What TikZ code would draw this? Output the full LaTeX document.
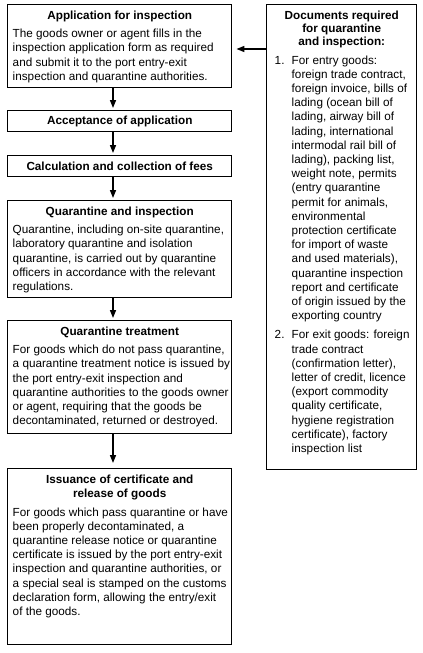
\documentclass[tikz,border=0pt]{standalone}
\usepackage{fontspec}
\setmainfont{Liberation Sans}
\usetikzlibrary{arrows.meta}
\newcommand\ttl[1]{\hbox to\hsize{\hss\bfseries #1\hss}}
\newcommand\lne[1]{\hbox to\hsize{#1\hss}}
\newcommand\itm[2]{\hbox to\hsize{\hskip2.25pt\hbox to12.75pt{#1\hss}#2\hss}}
\newcommand\cnt[1]{\hbox to\hsize{\hskip15pt #1\hss}}
\newcommand\boxbody[3]{\hbox to #2{\vbox to #1{\hsize=#2\relax\prevdepth=0pt #3\vfil}\hss}}
\hfuzz=50pt
\tikzset{
  box/.style={draw, line width=1.1pt, inner xsep=3.75pt, inner ysep=0pt, anchor=north west,
    font=\fontsize{8.8pt}{10.65pt}\selectfont},
  slimbox/.style={draw, line width=1.1pt, inner sep=0pt, anchor=north west,
    minimum width=168pt, minimum height=15.75pt,
    font=\fontsize{8.8pt}{10.65pt}\selectfont\bfseries},
  arr/.style={line width=1.1pt, -{Triangle[length=6pt,width=4.5pt]}}
}
\begin{document}
\begin{tikzpicture}[x=0.75pt, y=-0.75pt]
\useasboundingbox (0,0) rectangle (423,653);
\coordinate (ax) at (113,0);
\coordinate (ay) at (0,49);

\node[box] (b1) at (7,4) {\boxbody{62.25pt}{160.5pt}{%
  \vskip0.225pt\ttl{Application for inspection}\vskip3.2pt
  \lne{The goods owner or agent fills in the}
  \lne{inspection application form as required}
  \lne{and submit it to the port entry-exit}
  \lne{inspection and quarantine authorities.}}};

\node[slimbox] (b2) at (7,110) {Acceptance of application};
\node[slimbox] (b3) at (7,155) {Calculation and collection of fees};

\node[box] (b4) at (7,200) {\boxbody{72.75pt}{160.5pt}{%
  \vskip0.225pt\ttl{Quarantine and inspection}\vskip3.2pt
  \lne{Quarantine, including on-site quarantine,}
  \lne{laboratory quarantine and isolation}
  \lne{quarantine, is carried out by quarantine}
  \lne{officers in accordance with the relevant}
  \lne{regulations.}}};

\node[box] (b5) at (7,320) {\boxbody{84.75pt}{160.5pt}{%
  \vskip0.225pt\ttl{Quarantine treatment}\vskip3.2pt
  \lne{For goods which do not pass quarantine,}
  \lne{a quarantine treatment notice is issued by}
  \lne{the port entry-exit inspection and}
  \lne{quarantine authorities to the goods owner}
  \lne{or agent, requiring that the goods be}
  \lne{decontaminated, returned or destroyed.}}};

\node[box] (b6) at (7,468) {\boxbody{132pt}{160.5pt}{%
  \vskip0.6pt\ttl{Issuance of certificate and}\vskip-0.65pt
  \ttl{release of goods}\vskip3.6pt
  \lne{For goods which pass quarantine or have}
  \lne{been properly decontaminated, a}
  \lne{quarantine release notice or quarantine}
  \lne{certificate is issued by the port entry-exit}
  \lne{inspection and quarantine authorities, or}
  \lne{a special seal is stamped on the customs}
  \lne{declaration form, allowing the entry/exit}
  \lne{of the goods.}}};

\node[box] (docs) at (266,4) {\boxbody{348.75pt}{105pt}{%
  \vskip0.6pt\ttl{Documents required}\vskip-0.9pt
  \ttl{for quarantine}\vskip-0.9pt
  \ttl{and inspection:}\vskip3.07pt
  \itm{1.}{For entry goods:}
  \cnt{foreign trade contract,}
  \cnt{foreign invoice, bills of}
  \cnt{lading (ocean bill of}
  \cnt{lading, airway bill of}
  \cnt{lading, international}
  \cnt{intermodal rail bill of}
  \cnt{lading), packing list,}
  \cnt{weight note, permits}
  \cnt{(entry quarantine}
  \cnt{permit for animals,}
  \cnt{environmental}
  \cnt{protection certificate}
  \cnt{for import of waste}
  \cnt{and used materials),}
  \cnt{quarantine inspection}
  \cnt{report and certificate}
  \cnt{of origin issued by the}
  \cnt{exporting country}
  \vskip3.75pt
  \itm{2.}{For exit goods: foreign}
  \cnt{trade contract}
  \cnt{(confirmation letter),}
  \cnt{letter of credit, licence}
  \cnt{(export commodity}
  \cnt{quality certificate,}
  \cnt{hygiene registration}
  \cnt{certificate), factory}
  \cnt{inspection list}}};

\draw[arr, shorten >=1.5pt] (b1.south -| ax) -- (b2.north -| ax);
\draw[arr, shorten >=1.5pt] (b2.south -| ax) -- (b3.north -| ax);
\draw[arr, shorten >=1.5pt] (b3.south -| ax) -- (b4.north -| ax);
\draw[arr, shorten >=1.5pt] (b4.south -| ax) -- (b5.north -| ax);
\draw[arr, shorten >=3.75pt] (b5.south -| ax) -- (b6.north -| ax);
\draw[arr, shorten >=3pt] (docs.west |- ay) -- (b1.east |- ay);
\end{tikzpicture}
\end{document}
